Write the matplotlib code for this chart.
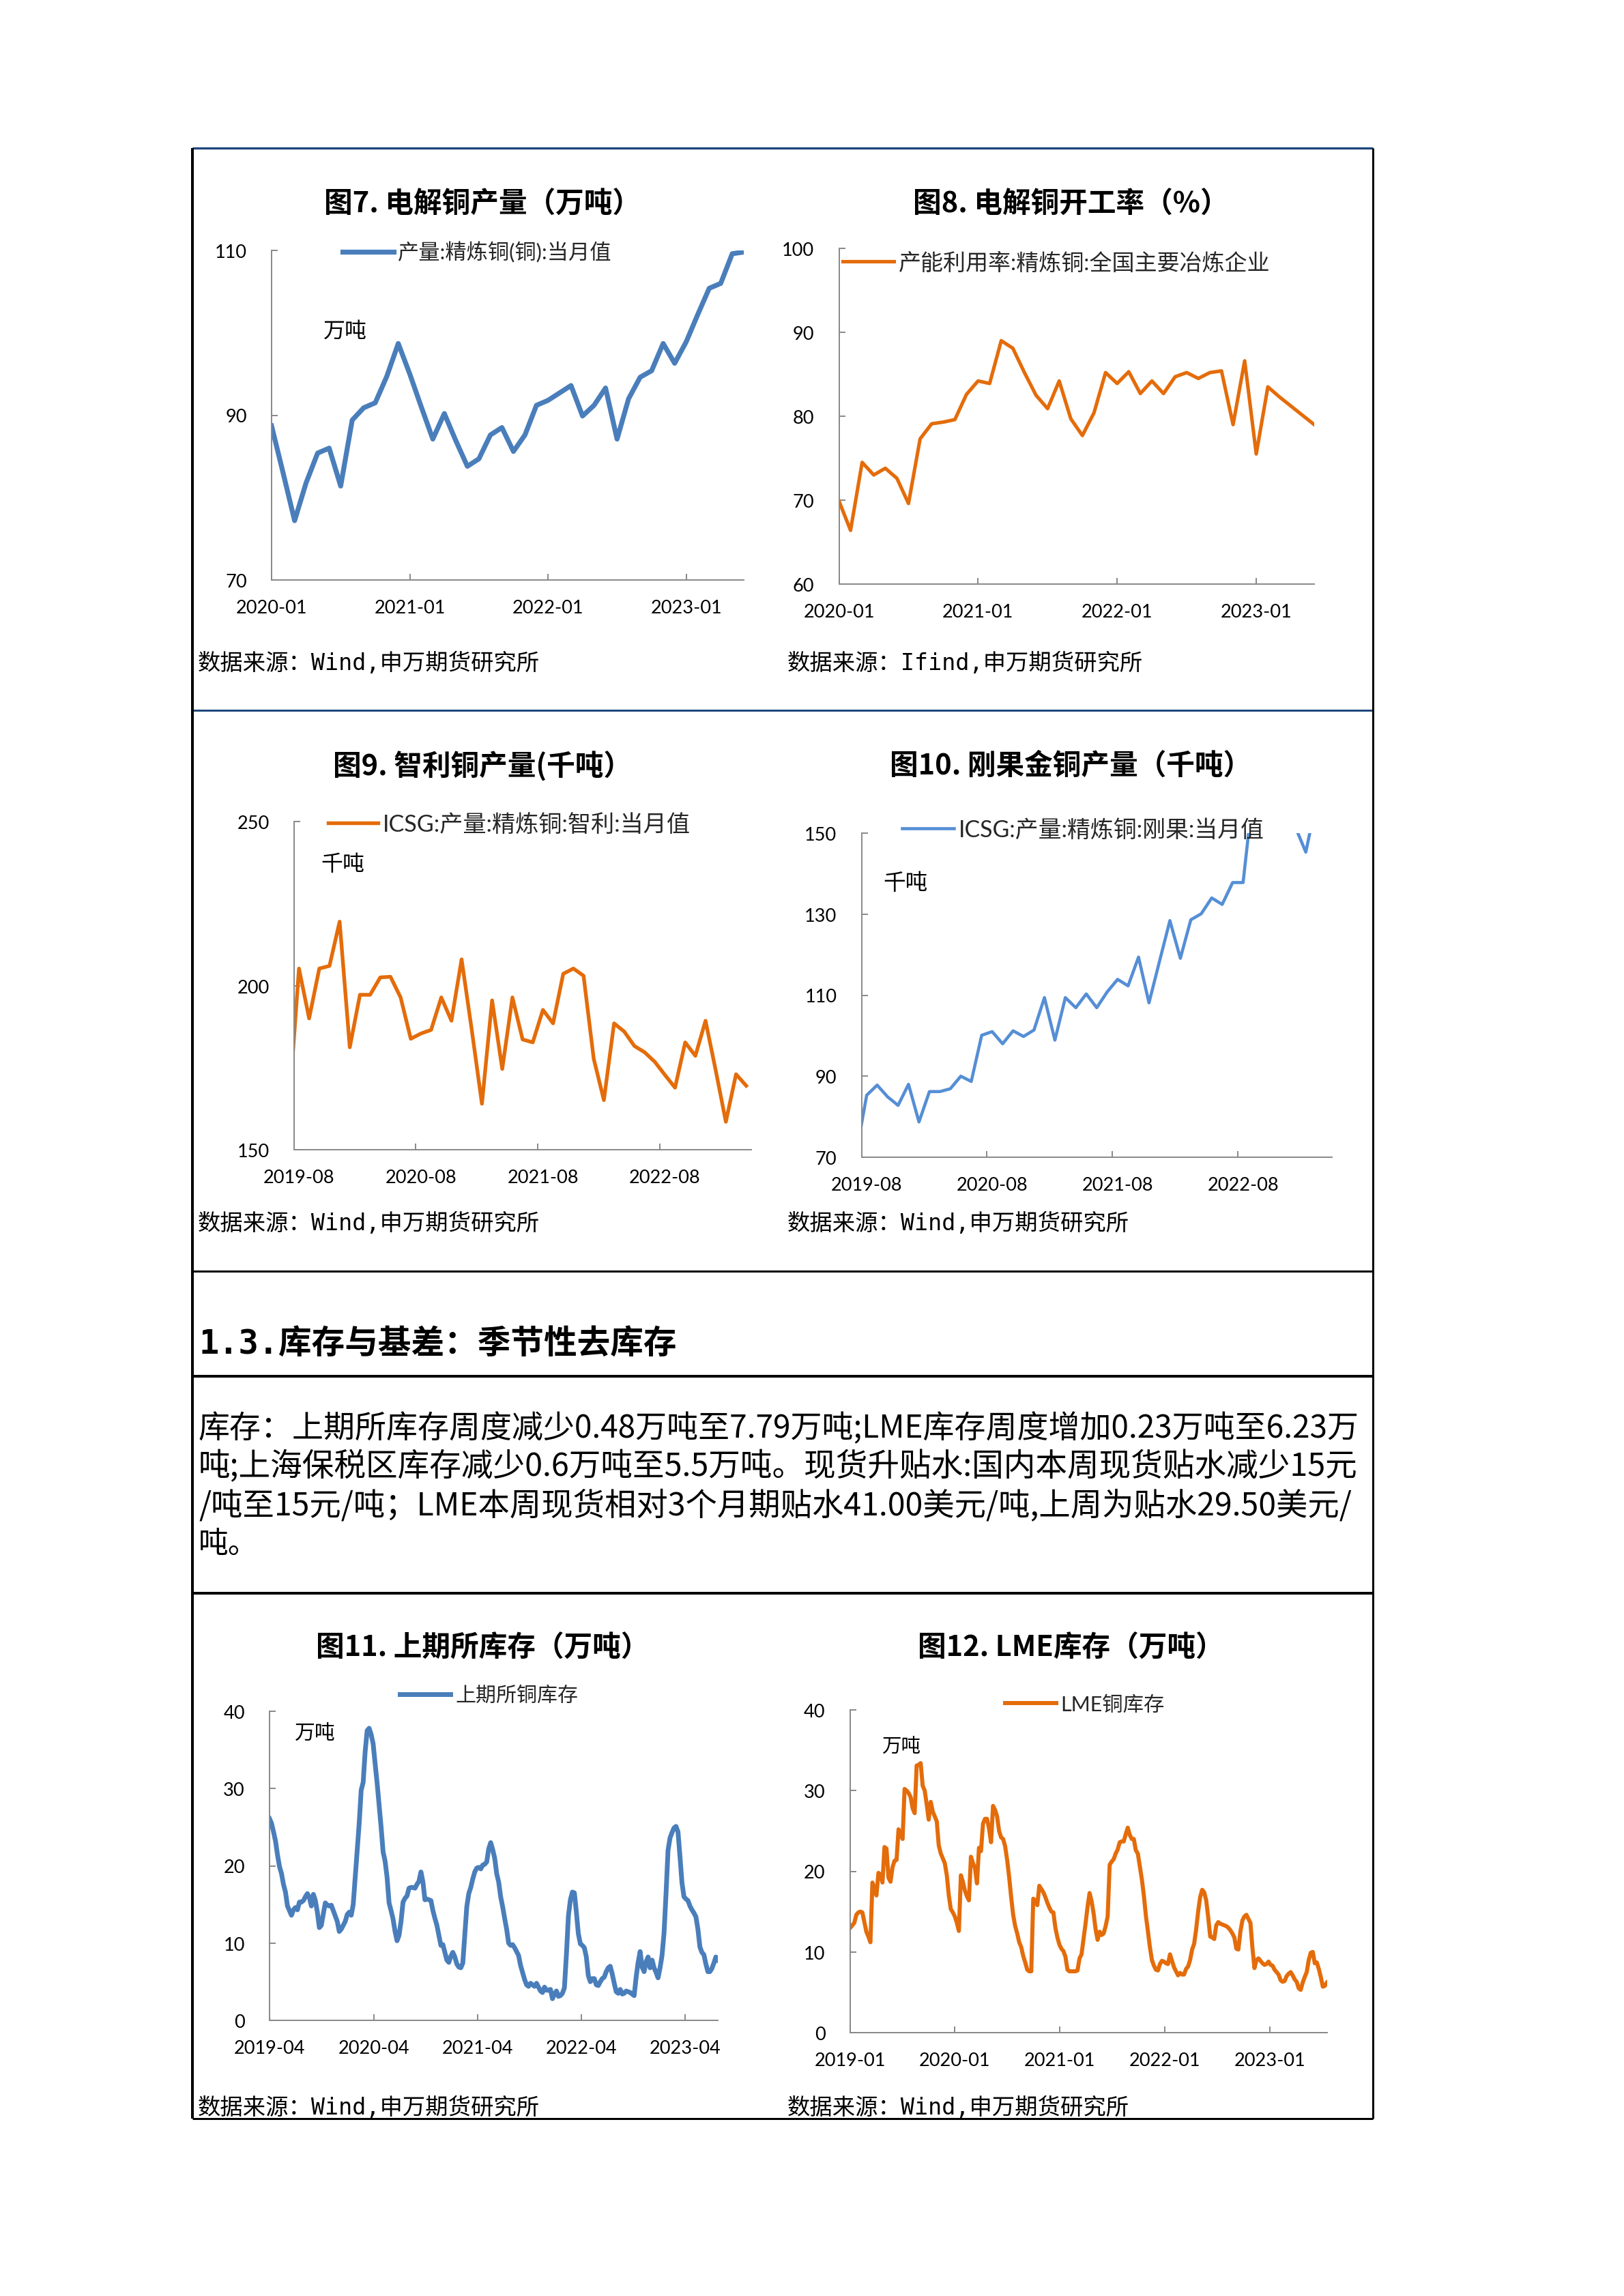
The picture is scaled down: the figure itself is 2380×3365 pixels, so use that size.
import numpy as np
import pandas as pd
import matplotlib
matplotlib.use('Agg')
import matplotlib.pyplot as plt
from matplotlib.lines import Line2D

W, H = 2380, 3366
DPI = 100
CJK = 'Noto Sans CJK SC'
LAT = 'Lato'
MONO = 'DejaVu Sans Mono'
plt.rcParams['font.family'] = [CJK, 'DejaVu Sans']
plt.rcParams['axes.unicode_minus'] = False

BLUE = '#4A7EBB'
BLUE2 = '#558ED5'
ORANGE = '#E46C0A'
AXC = '#888888'

# ---------------- data ----------------
# Fig 7: electrolytic copper output (10kt), monthly 2020-01 .. 2023-06
c7_months = pd.period_range('2020-01', '2023-06', freq='M')
c7_values = [88.7, 83.0, 77.2, 81.8, 85.4, 86.0, 81.4, 89.4, 90.9, 91.5,
             94.7, 98.7, 95.0, 91.0, 87.1, 90.2, 86.9, 83.8, 84.7, 87.6,
             88.5, 85.6, 87.6, 91.2, 91.8, 92.7, 93.6, 89.9, 91.2, 93.3,
             87.1, 92.0, 94.6, 95.4, 98.7, 96.3, 98.9, 102.2, 105.4, 106.0,
             109.6, 109.8]
c7_label = '产量:精炼铜(铜):当月值'

# Fig 8: operating rate (%), monthly 2020-01 .. 2023-06
c8_months = pd.period_range('2020-01', '2023-06', freq='M')
c8_values = [69.9, 66.4, 74.5, 73.0, 73.8, 72.6, 69.6, 77.3, 79.1, 79.3,
             79.6, 82.6, 84.2, 83.9, 89.0, 88.1, 85.2, 82.5, 80.9, 84.2,
             79.7, 77.7, 80.4, 85.2, 83.9, 85.3, 82.7, 84.2, 82.7, 84.7,
             85.2, 84.5, 85.2, 85.4, 79.0, 86.6, 75.5, 83.5, 82.3, 81.2,
             80.1, 79.0]
c8_label = '产能利用率:精炼铜:全国主要冶炼企业'

# Fig 9: Chile refined copper output (kt), monthly 2019-07 .. 2023-04
c9_months = pd.period_range('2019-07', '2023-04', freq='M')
c9_values = [162.0, 205.2, 190.0, 205.2, 206.0, 219.5, 181.2, 197.2, 197.2, 202.5,
             202.7, 196.4, 183.8, 185.4, 186.5, 196.4, 189.3, 208.0, 186.5, 164.0,
             195.5, 174.6, 196.4, 183.6, 182.7, 192.6, 188.5, 203.6, 205.2, 203.0,
             177.7, 165.1, 188.5, 186.0, 181.6, 179.7, 176.8, 172.8, 168.9, 182.7,
             178.6, 189.3, 174.2, 158.5, 173.0, 169.5]
c9_label = 'ICSG:产量:精炼铜:智利:当月值'

# Fig 10: DR Congo refined copper output (kt), monthly 2019-07 .. 2023-04
c10_months = pd.period_range('2019-07', '2023-04', freq='M')
c10_values = [71.0, 85.3, 87.8, 84.9, 82.8, 88.0, 78.7, 86.2, 86.2, 86.9,
              90.0, 88.7, 100.1, 101.0, 98.0, 101.2, 99.8, 101.4, 109.4, 98.9,
              109.4, 106.9, 110.3, 106.9, 110.8, 113.9, 112.3, 119.4, 108.1, 118.3,
              128.4, 119.1, 128.6, 130.1, 134.0, 132.4, 137.8, 137.8, 161.0, 158.0,
              163.0, 160.0, 151.5, 145.3, 157.8, 154.0]
c10_label = 'ICSG:产量:精炼铜:刚果:当月值'

# Fig 11: SHFE copper stocks (10kt), weekly from 2019-04-05
c11_start = '2019-04-05'
c11_values = [26.1, 25.5, 24.4, 23.2, 21.4, 19.9, 19.0, 17.6, 16.6, 14.8,
              14.2, 13.6, 14.3, 14.6, 14.3, 15.3, 15.3, 15.5, 16.0, 16.4,
              15.9, 14.8, 16.3, 15.5, 14.0, 12.0, 12.3, 13.8, 15.2, 14.9,
              14.8, 14.9, 14.2, 13.5, 12.8, 11.5, 11.8, 12.3, 12.8, 13.7,
              14.0, 13.6, 15.0, 18.5, 22.0, 25.5, 29.8, 30.8, 34.8, 37.5,
              37.8, 37.0, 35.8, 33.2, 30.7, 27.8, 25.0, 21.8, 20.6, 18.5,
              15.2, 14.2, 13.1, 11.5, 10.3, 11.0, 12.8, 15.3, 15.8, 16.1,
              17.1, 17.2, 17.2, 17.1, 17.6, 18.0, 19.2, 17.9, 15.6, 15.7,
              15.6, 15.5, 14.2, 13.2, 12.3, 11.0, 9.7, 9.8, 8.8, 7.8,
              7.5, 8.3, 8.8, 8.2, 7.3, 6.9, 6.8, 7.4, 11.1, 14.7,
              16.4, 17.2, 18.3, 19.2, 19.7, 19.8, 19.6, 20.1, 20.2, 20.5,
              22.2, 23.0, 22.1, 21.0, 19.0, 17.9, 16.0, 14.7, 13.2, 11.8,
              10.0, 9.7, 9.8, 9.4, 8.9, 8.4, 7.1, 6.2, 5.3, 4.6,
              4.4, 4.8, 4.6, 4.4, 4.8, 4.3, 3.8, 3.6, 4.3, 3.9,
              3.9, 4.0, 2.8, 3.4, 3.8, 3.1, 3.2, 3.5, 4.2, 8.5,
              13.5, 15.6, 16.6, 16.5, 14.0, 11.2, 9.9, 9.7, 9.4, 8.2,
              5.8, 5.0, 5.4, 5.4, 4.6, 4.5, 5.0, 5.4, 5.6, 6.3,
              6.8, 7.0, 6.0, 4.8, 3.7, 3.5, 4.0, 3.4, 3.5, 3.8,
              3.7, 3.6, 3.4, 3.2, 5.6, 7.5, 8.9, 6.9, 6.3, 7.6,
              8.2, 6.8, 7.8, 6.8, 6.2, 5.5, 6.8, 8.4, 11.3, 16.4,
              22.0, 23.6, 24.3, 24.9, 25.1, 24.4, 21.2, 17.8, 16.0, 15.7,
              15.5, 14.8, 14.3, 13.9, 13.4, 11.8, 9.5, 8.8, 8.5, 7.3,
              6.3, 6.3, 6.7, 7.4, 8.2, 7.8]
c11_ticks = ['2019-04-05', '2020-04-05', '2021-04-05', '2022-04-05', '2023-04-05']
c11_label = '上期所铜库存'

# Fig 12: LME copper stocks (10kt), weekly from 2019-01-02
c12_start = '2019-01-02'
c12_values = [13.0, 13.3, 13.6, 14.6, 14.9, 15.0, 14.9, 13.7, 12.5, 11.9,
              11.2, 18.6, 17.9, 17.0, 19.8, 19.6, 18.6, 23.0, 22.8, 19.2,
              18.7, 20.5, 21.3, 21.4, 25.2, 24.7, 24.0, 30.2, 30.0, 29.7,
              29.2, 27.8, 27.2, 33.1, 33.2, 33.4, 30.6, 30.0, 28.3, 26.4,
              28.6, 27.4, 26.8, 26.2, 23.2, 22.2, 21.6, 21.0, 19.5, 17.0,
              15.3, 14.9, 14.4, 13.6, 12.6, 19.5, 18.7, 17.6, 16.9, 16.4,
              21.8, 21.0, 20.4, 18.5, 22.9, 22.5, 25.9, 26.5, 26.5, 25.3,
              23.6, 28.1, 27.6, 26.8, 25.0, 24.2, 24.0, 23.1, 21.4, 19.3,
              16.8, 14.6, 13.2, 12.3, 11.2, 10.6, 9.5, 8.7, 7.8, 7.6,
              7.6, 16.6, 16.4, 15.8, 18.2, 17.8, 17.4, 16.8, 16.1, 15.5,
              15.0, 14.9, 13.0, 11.8, 10.9, 10.4, 10.1, 9.4, 7.8, 7.6,
              7.6, 7.6, 7.6, 7.7, 9.2, 9.7, 11.6, 13.5, 15.6, 17.3,
              16.3, 14.8, 12.8, 11.5, 12.5, 12.1, 12.3, 13.2, 14.4, 20.8,
              21.2, 21.5, 22.2, 22.7, 23.6, 23.7, 23.7, 24.6, 25.4, 24.5,
              24.0, 24.0, 22.6, 22.2, 20.6, 19.0, 17.0, 14.5, 12.6, 10.6,
              9.0, 8.3, 7.8, 7.7, 8.5, 8.9, 8.8, 8.6, 8.5, 9.7,
              8.9, 8.1, 7.6, 7.1, 7.4, 7.2, 7.2, 7.9, 8.2, 9.0,
              10.3, 11.0, 12.8, 15.0, 16.8, 17.7, 17.4, 16.4, 14.3, 11.9,
              11.8, 11.6, 13.3, 13.7, 13.5, 13.4, 13.3, 13.2, 13.0, 12.7,
              12.3, 11.8, 10.4, 10.3, 12.5, 13.9, 14.4, 14.6, 14.1, 13.6,
              10.5, 8.0, 9.0, 9.2, 8.9, 8.6, 8.4, 8.5, 8.8, 8.4,
              8.3, 7.8, 7.5, 7.2, 6.5, 6.3, 6.4, 7.0, 7.3, 7.5,
              7.1, 6.6, 6.3, 5.5, 5.3, 6.2, 6.9, 7.5, 9.0, 9.9,
              10.0, 8.6, 8.7, 7.9, 6.9, 5.7, 5.8, 6.2]
c12_ticks = ['2019-01-01', '2020-01-01', '2021-01-01', '2022-01-01', '2023-01-01']
c12_label = 'LME铜库存'

titles = ['图7. 电解铜产量（万吨）', '图8. 电解铜开工率（%）',
          '图9. 智利铜产量(千吨）', '图10. 刚果金铜产量（千吨）',
          '图11. 上期所库存（万吨）', '图12. LME库存（万吨）']
sources = ['数据来源：Wind,申万期货研究所', '数据来源：Ifind,申万期货研究所',
           '数据来源：Wind,申万期货研究所', '数据来源：Wind,申万期货研究所',
           '数据来源：Wind,申万期货研究所', '数据来源：Wind,申万期货研究所']
heading = '1.3.库存与基差：季节性去库存'
para_lines = ['库存：上期所库存周度减少0.48万吨至7.79万吨;LME库存周度增加0.23万吨至6.23万',
              '吨;上海保税区库存减少0.6万吨至5.5万吨。现货升贴水:国内本周现货贴水减少15元',
              '/吨至15元/吨；LME本周现货相对3个月期贴水41.00美元/吨,上周为贴水29.50美元/',
              '吨。']

# ---------------- figure ----------------
fig = plt.figure(figsize=(W / DPI, H / DPI), dpi=DPI)
fig.patch.set_facecolor('white')


def FX(x):
    return x / W


def FY(y):
    return 1 - y / H


def make_ax(l, r, t, b):
    ax = fig.add_axes([l / W, 1 - b / H, (r - l) / W, (b - t) / H])
    for s in ['top', 'right']:
        ax.spines[s].set_visible(False)
    for s in ['left', 'bottom']:
        ax.spines[s].set_color(AXC)
        ax.spines[s].set_linewidth(1.4)
    ax.tick_params(axis='both', which='both', direction='in', length=6.5, width=1.4,
                   color=AXC, labelsize=19.5, labelfontfamily=LAT, labelcolor='black')
    ax.tick_params(axis='y', pad=26)
    ax.tick_params(axis='x', which='both', pad=20)
    ax.set_facecolor('none')
    return ax


def add_legend(ax, line, label, x0, yc, fs, hl, htp):
    leg = ax.legend([line], [label], loc='center left',
                    bbox_to_anchor=(FX(x0), FY(yc)), bbox_transform=fig.transFigure,
                    frameon=False, borderpad=0, borderaxespad=0,
                    handlelength=hl, handletextpad=htp,
                    prop={'family': [LAT, CJK], 'size': fs})
    for t in leg.get_texts():
        t.set_color('#262626')
    return leg


def unit_text(x, y, s, fs):
    fig.text(FX(x), FY(y), s, ha='center', va='center', fontsize=fs,
             family=[CJK], weight='light', color='black')


# ---- Fig 7 ----
ax7 = make_ax(398, 1090, 368, 851)
x7 = np.arange(len(c7_values))
ln7, = ax7.plot(x7, c7_values, color=BLUE, lw=5.2, solid_joinstyle='round')
ax7.set_xlim(0, len(c7_values) - 1)
ax7.set_ylim(70, 110)
ax7.set_yticks([70, 90, 110])
ax7.set_xticks([0, 12, 24, 36])
ax7.set_xticklabels([c7_months[i].strftime('%Y-%m') for i in [0, 12, 24, 36]])
add_legend(ax7, ln7, c7_label, 502, 370, 22.5, 2.4, 0.2)
unit_text(506, 486, '万吨', 23)

# ---- Fig 8 ----
ax8 = make_ax(1229.5, 1926, 365, 857)
x8 = np.arange(len(c8_values))
ln8, = ax8.plot(x8, c8_values, color=ORANGE, lw=3.7, solid_joinstyle='round')
ax8.set_xlim(0, len(c8_values) - 1)
ax8.set_ylim(60, 100)
ax8.set_yticks([60, 70, 80, 90, 100])
ax8.set_xticks([0, 12, 24, 36])
ax8.set_xticklabels([c8_months[i].strftime('%Y-%m') for i in [0, 12, 24, 36]])
add_legend(ax8, ln8, c8_label, 1235, 386, 23.8, 2.26, 0.21)


# ---- Fig 9 / Fig 10 (category axes, points centred) ----
def category_axis(ax, months):
    n = len(months) - 1  # first month sits left of the axis
    ax.set_xlim(-0.5, n - 0.5)
    ax.set_xticks([11.5, 23.5, 35.5])
    ax.set_xticklabels([])
    lab_idx = [0, 12, 24, 36]
    ax.set_xticks(lab_idx, minor=True)
    ax.set_xticklabels([months[i + 1].strftime('%Y-%m') for i in lab_idx], minor=True)
    ax.tick_params(axis='x', which='minor', length=0)


ax9 = make_ax(430.7, 1101, 1205, 1686)
x9 = np.arange(len(c9_values)) - 1
ln9, = ax9.plot(x9, c9_values, color=ORANGE, lw=3.9, solid_joinstyle='round')
category_axis(ax9, c9_months)
ax9.set_ylim(150, 250)
ax9.set_yticks([150, 200, 250])
add_legend(ax9, ln9, c9_label, 480.5, 1209, 24.6, 2.14, 0.2)
unit_text(502, 1267, '千吨', 23)

ax10 = make_ax(1262.5, 1952, 1222, 1697)
x10 = np.arange(len(c10_values)) - 1
ln10, = ax10.plot(x10, c10_values, color=BLUE2, lw=3.3, solid_joinstyle='round')
category_axis(ax10, c10_months)
ax10.set_ylim(70, 150)
ax10.set_yticks([70, 90, 110, 130, 150])
add_legend(ax10, ln10, c10_label, 1322, 1217, 24.4, 2.24, 0.22)
unit_text(1327, 1295, '千吨', 23.5)

# ---- Fig 11 ----
ax11 = make_ax(395, 1052, 2509, 2962)
d11 = pd.date_range(c11_start, periods=len(c11_values), freq='7D')
ln11, = ax11.plot(d11, c11_values, color=BLUE, lw=5.0, solid_joinstyle='round')
ax11.set_xlim(d11[0], d11[-1])
ax11.set_ylim(0, 40)
ax11.set_yticks([0, 10, 20, 30, 40])
t11 = pd.to_datetime(c11_ticks)
ax11.set_xticks(t11)
ax11.set_xticklabels([t.strftime('%Y-%m') for t in t11])
add_legend(ax11, ln11, c11_label, 586, 2485, 21.6, 2.45, 0.27)
unit_text(462, 2540, '万吨', 21.5)

# ---- Fig 12 ----
ax12 = make_ax(1245.7, 1944.5, 2507, 2980)
d12 = pd.date_range(c12_start, periods=len(c12_values), freq='7D')
ln12, = ax12.plot(d12, c12_values, color=ORANGE, lw=4.3, solid_joinstyle='round')
t12 = pd.to_datetime(c12_ticks)
ax12.set_xlim(t12[0], d12[-1])
ax12.set_ylim(0, 40)
ax12.set_yticks([0, 10, 20, 30, 40])
ax12.set_xticks(t12)
ax12.set_xticklabels([t.strftime('%Y-%m') for t in t12])
add_legend(ax12, ln12, c12_label, 1473, 2499, 21.9, 2.45, 0.23)
unit_text(1321, 2561, '万吨', 20.5)

# ---- titles and sources ----
title_pos = [(707, 300), (1569, 300), (707, 1123), (1569, 1123), (707, 2416), (1569, 2416)]
for s, (x, y) in zip(titles, title_pos):
    fig.text(FX(x), FY(y), s, ha='center', va='center', fontsize=30,
             weight='bold', family=[CJK], color='black')

src_pos = [(290, 972), (1154, 972), (290, 1793), (1154, 1793), (290, 3089), (1154, 3089)]
for s, (x, y) in zip(sources, src_pos):
    fig.text(FX(x), FY(y), s, ha='left', va='center', fontsize=24,
             family=[MONO, CJK], color='black')

# ---- section heading & paragraph ----
fig.text(FX(291), FY(1970), heading, ha='left', va='center', fontsize=35,
         weight='bold', family=[MONO, CJK], color='black')

renderer = fig.canvas.get_renderer()
para_y = [2094, 2150, 2207, 2263]
para_target = [1700, 1700, 1690, None]
for s, y, tw in zip(para_lines, para_y, para_target):
    t = fig.text(FX(291), FY(y), s, ha='left', va='center', fontsize=31.5,
                 family=[CJK], color='black')
    if tw is not None:
        w = t.get_window_extent(renderer).width
        scale = min(1.07, max(0.93, tw / w))
        t.set_fontsize(31.5 * scale)

# ---- frame lines ----
NAVY = '#1F497D'


def hline(y, x0, x1, color, lwpx):
    fig.add_artist(Line2D([FX(x0), FX(x1)], [FY(y), FY(y)], transform=fig.transFigure,
                          color=color, lw=lwpx * 72 / DPI, solid_capstyle='butt'))


def vline(x, y0, y1, color, lwpx):
    fig.add_artist(Line2D([FX(x), FX(x)], [FY(y0), FY(y1)], transform=fig.transFigure,
                          color=color, lw=lwpx * 72 / DPI, solid_capstyle='butt'))


L, R, T, B = 282, 2012, 218, 3106
hline(T, L, R, NAVY, 3.3)
hline(1042, L, R, NAVY, 3.0)
hline(1864, L, R, 'black', 3.0)
hline(2018, L, R, 'black', 4.0)
hline(2336, L, R, 'black', 4.0)
hline(B, L, R, 'black', 3.0)
vline(L, T, B, 'black', 4.0)
vline(R, T, B, 'black', 3.0)

fig.savefig('out.png', dpi=DPI, facecolor='white')
